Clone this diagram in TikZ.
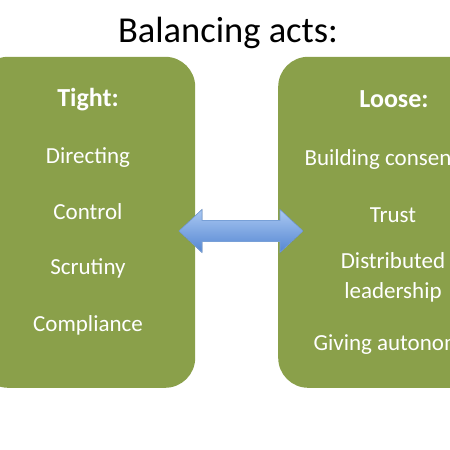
\documentclass[tikz,border=0pt]{standalone}
\usepackage{fontspec}
\setmainfont{Carlito}
\usetikzlibrary{positioning}
\definecolor{panelgreen}{RGB}{138,160,74}
\definecolor{arrowtop}{RGB}{170,200,242}
\definecolor{arrowbot}{RGB}{84,134,210}
\definecolor{arrowline}{RGB}{120,160,215}

\begin{document}
\begin{tikzpicture}[x=1pt, y=1pt,
    panel/.style={rectangle, rounded corners=30pt, fill=panelgreen, inner sep=0pt, anchor=south west},
    head/.style={anchor=base, text=white, font=\fontsize{26}{30}\selectfont\bfseries},
    item/.style={anchor=base, text=white, font=\fontsize{23}{30}\selectfont, align=center},
    title/.style={anchor=base, font=\fontsize{36.5}{42}\selectfont}]
    \useasboundingbox[fill=white] (0,0) rectangle (450,450);
    \clip (0,0) rectangle (450,450);

    \node[title] (ttl) at (228,407) {Balancing acts:};

    % the two panels
    \node[panel, minimum width=217pt, minimum height=331pt] (tight) at (-22,62) {};
    \node[panel, minimum width=232pt, minimum height=331pt] (loose) at (278,62) {};

    % left column
    \node[head] (th) at (88,343) {Tight:};
    \node[item] (t1) at (88,286) {Directing};
    \node[item] (t2) at (88,230) {Control};
    \node[item] (t3) at (88,175) {Scrutiny};
    \node[item] (t4) at (88,118) {Compliance};

    % right column
    \node[head] (lh) at (394,342) {Loose:};
    \node[item] (l1) at (393,284) {Building consensus};
    \node[item] (l2) at (393,227) {Trust};
    \node[item] (l3) at (393,151) {Distributed\\leadership};
    \node[item] (l4) at (393,99) {Giving autonomy};

    % double arrow between the panels
    \filldraw[draw=arrowline, line width=0.6pt, top color=arrowtop, bottom color=arrowbot]
      (179,219) -- (202,240.5) -- (202,229.5) -- (280,229.5) -- (280,240.5)
      -- (303,219) -- (280,197.5) -- (280,208.5) -- (202,208.5) -- (202,197.5) -- cycle;
\end{tikzpicture}
\end{document}
